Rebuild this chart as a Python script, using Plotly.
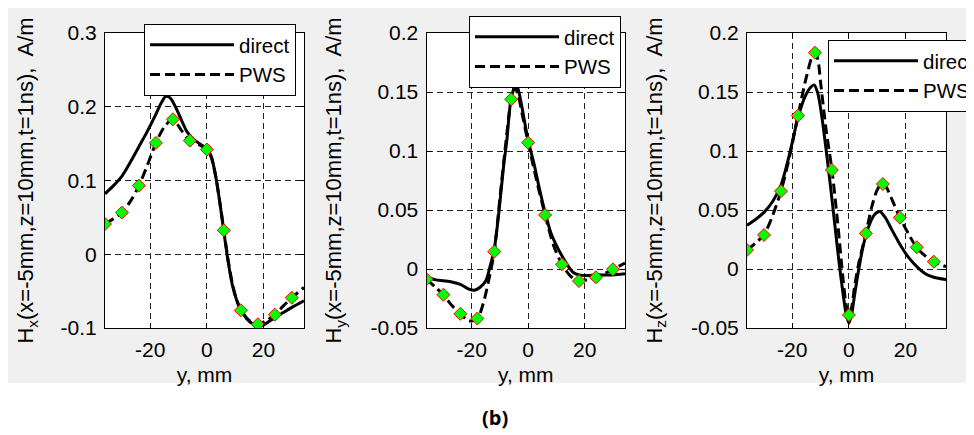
import plotly.graph_objects as go

FONT = "Liberation Sans, Arial, Helvetica, sans-serif"

# ---------------- data ----------------
marker_y_mm = [-36, -30, -24, -18, -12, -6, 0, 6, 12, 18, 24, 30]

# Panel 1 : Hx
hx_direct_y = [-36, -33, -30, -27, -24, -21, -18, -16, -14.5, -13, -11, -9, -7, -5, -3, -1, 0,
               1.5, 3, 4.5, 6, 7.5, 9, 10.5, 12, 14, 16, 18, 20, 22, 24, 27, 30, 34.3]
hx_direct_v = [0.082, 0.093, 0.106, 0.125, 0.146, 0.167, 0.190, 0.206, 0.214, 0.212, 0.199, 0.182,
               0.166, 0.157, 0.151, 0.146, 0.143, 0.133, 0.108, 0.072, 0.030, -0.010, -0.042,
               -0.062, -0.075, -0.087, -0.094, -0.097, -0.096, -0.091, -0.086, -0.079, -0.072, -0.063]
hx_pws_y = [-36, -33, -30, -27, -24, -21, -18, -15, -12, -9, -6, -3, 0, 1.5, 3, 4.5, 6, 7.5, 9,
            10.5, 12, 15, 18, 21, 24, 27, 30, 34.3]
hx_pws_v = [0.041, 0.048, 0.0565, 0.072, 0.093, 0.121, 0.151, 0.173, 0.183, 0.168, 0.154, 0.149,
            0.142, 0.132, 0.108, 0.072, 0.0325, -0.008, -0.040, -0.062, -0.076, -0.090, -0.095,
            -0.090, -0.082, -0.070, -0.059, -0.045]
hx_marker_v = [0.041, 0.0565, 0.093, 0.151, 0.183, 0.154, 0.142, 0.0325, -0.076, -0.095, -0.082, -0.059]

# Panel 2 : Hy
hy_direct_y = [-36, -33, -30, -27, -24, -21, -19, -17, -15, -13.5, -12, -10.5, -8.7, -7.5, -6.3,
               -5, -4.1, -3, -1.5, 0, 2, 4, 6, 8, 10, 12, 14, 16, 18, 21, 24, 27, 30, 34.3]
hy_direct_v = [-0.007, -0.009, -0.010, -0.011, -0.013, -0.017, -0.018, -0.0155, -0.010, 0.002,
               0.017, 0.045, 0.087, 0.110, 0.140, 0.153, 0.156, 0.147, 0.128, 0.109, 0.090, 0.068,
               0.048, 0.031, 0.020, 0.011, 0.003, -0.003, -0.005, -0.0055, -0.005, -0.005, -0.005,
               -0.004]
hy_pws_y = [-36, -33, -30, -27, -24, -21, -18, -16, -14, -12, -10, -8, -6, -4.8, -3.5, -2, 0, 3,
            6, 9, 12, 15, 18, 21, 24, 27, 30, 34.3]
hy_pws_v = [-0.0087, -0.015, -0.022, -0.031, -0.038, -0.044, -0.042, -0.030, -0.010, 0.015, 0.060,
            0.105, 0.144, 0.154, 0.147, 0.130, 0.107, 0.075, 0.046, 0.020, 0.004, -0.006, -0.0102,
            -0.009, -0.007, -0.004, -0.0003, 0.005]
hy_marker_v = [-0.0087, -0.0218, -0.038, -0.042, 0.0147, 0.1438, 0.107, 0.0458, 0.004, -0.0102,
               -0.007, -0.0003]

# Panel 3 : Hz
hz_direct_y = [-36, -33, -30, -27, -24, -21, -18, -15.5, -13.5, -12.3, -11, -9.5, -8, -6.5, -5,
               -3.5, -2, -1, 0, 1, 2, 3.5, 5, 7, 9, 11, 13, 15, 18, 21, 24, 27, 30, 34.3]
hz_direct_v = [0.037, 0.042, 0.048, 0.057, 0.071, 0.097, 0.128, 0.146, 0.154, 0.156, 0.149, 0.128,
               0.100, 0.070, 0.038, 0.006, -0.022, -0.038, -0.046, -0.038, -0.022, 0.000, 0.019,
               0.036, 0.046, 0.0486, 0.043, 0.034, 0.021, 0.010, 0.002, -0.004, -0.007, -0.009]
hz_pws_y = [-36, -33, -30, -27, -24, -21, -18, -15, -13, -12, -11, -10, -8, -6, -4, -2, -1, 0, 1,
            2, 3.5, 6, 8, 10, 11.5, 13, 15, 18, 21, 24, 27, 30, 34.3]
hz_pws_v = [0.016, 0.022, 0.029, 0.045, 0.066, 0.095, 0.130, 0.163, 0.180, 0.183, 0.178, 0.158,
            0.117, 0.084, 0.040, -0.010, -0.030, -0.039, -0.032, -0.015, 0.005, 0.030, 0.052,
            0.067, 0.072, 0.070, 0.060, 0.0435, 0.030, 0.018, 0.011, 0.006, 0.002]
hz_marker_v = [0.0161, 0.0288, 0.066, 0.130, 0.1833, 0.0839, -0.039, 0.0302, 0.072, 0.0435,
               0.0184, 0.0062]

x_tick_vals = [-20, 0, 20]
x_tick_text = ["-20", "0", "20"]
y1_tick_vals = [-0.1, 0, 0.1, 0.2, 0.3]
y1_tick_text = ["-0.1", "0", "0.1", "0.2", "0.3"]
y23_tick_vals = [-0.05, 0, 0.05, 0.1, 0.15, 0.2]
y23_tick_text = ["-0.05", "0", "0.05", "0.1", "0.15", "0.2"]

y_titles = ["H<sub>x</sub>(x=-5mm,z=10mm,t=1ns),\u00a0 A/m",
            "H<sub>y</sub>(x=-5mm,z=10mm,t=1ns),\u00a0 A/m",
            "H<sub>z</sub>(x=-5mm,z=10mm,t=1ns),\u00a0 A/m"]
x_title = "y, mm"
series_names = ["direct", "PWS"]

panels = [
    (hx_direct_y, hx_direct_v, hx_pws_y, hx_pws_v, hx_marker_v, [-0.1, 0.3], y1_tick_vals, y1_tick_text),
    (hy_direct_y, hy_direct_v, hy_pws_y, hy_pws_v, hy_marker_v, [-0.05, 0.2], y23_tick_vals, y23_tick_text),
    (hz_direct_y, hz_direct_v, hz_pws_y, hz_pws_v, hz_marker_v, [-0.05, 0.2], y23_tick_vals, y23_tick_text),
]

# ---------------- layout geometry ----------------
# The page body has an 8px default margin, so the figure is 8px smaller than the
# 974x435 window and all target page positions are shifted by 8px.
PAGE_W, PAGE_H, OFF = 974, 435, 8
W, H = PAGE_W - OFF, PAGE_H - OFF


def px(xp):
    return (xp - OFF) / W


def py(yp):
    return 1 - (yp - OFF) / H


x_domains_page = [(105, 304), (426.5, 625), (747, 946)]
y_domain_page = (33, 328)
legend_pos_page = [(144, 24), (469, 16), (828, 40)]
y_title_standoff = [20, 22, 22]
x_range = [-36, 34.3]

fig = go.Figure()
for i, (dy, dv, py_, pv, mv, yr, ytv, ytt) in enumerate(panels):
    xa = "x" if i == 0 else f"x{i+1}"
    ya = "y" if i == 0 else f"y{i+1}"
    lg = "legend" if i == 0 else f"legend{i+1}"
    fig.add_trace(go.Scatter(x=dy, y=dv, mode="lines", name=series_names[0],
                             line=dict(color="black", width=3, shape="spline", smoothing=0.8),
                             xaxis=xa, yaxis=ya, legend=lg, hoverinfo="skip"))
    fig.add_trace(go.Scatter(x=py_, y=pv, mode="lines", name=series_names[1],
                             line=dict(color="black", width=3, dash="10px,5px", shape="spline", smoothing=0.8),
                             xaxis=xa, yaxis=ya, legend=lg, hoverinfo="skip"))
    fig.add_trace(go.Scatter(x=marker_y_mm, y=mv, mode="markers", showlegend=False,
                             marker=dict(symbol="diamond", size=10, color="#00ff00",
                                         line=dict(color="red", width=1)),
                             xaxis=xa, yaxis=ya, hoverinfo="skip"))

    axis_common = dict(showline=True, linecolor="black", linewidth=1, mirror="allticks",
                       ticks="inside", ticklen=5, tickcolor="black", tickwidth=1,
                       showgrid=True, gridcolor="#222222", gridwidth=1, griddash="6px,4px",
                       zeroline=False, tickfont=dict(family=FONT, size=21, color="black"),
                       automargin=False, fixedrange=True)
    x0, x1 = x_domains_page[i]
    fig.update_layout(**{
        ("xaxis" if i == 0 else f"xaxis{i+1}"): dict(
            axis_common, domain=[px(x0), px(x1)], range=x_range, anchor=ya,
            tickmode="array", tickvals=x_tick_vals, ticktext=x_tick_text, ticklabelstandoff=3,
            title=dict(text=x_title, font=dict(family=FONT, size=21, color="black"), standoff=7)),
        ("yaxis" if i == 0 else f"yaxis{i+1}"): dict(
            axis_common, domain=[py(y_domain_page[1]), py(y_domain_page[0])], range=yr, anchor=xa,
            tickmode="array", tickvals=ytv, ticktext=ytt, ticklabelstandoff=3,
            title=dict(text=y_titles[i], font=dict(family=FONT, size=22, color="black"),
                       standoff=y_title_standoff[i])),
    })
    lx, ly = legend_pos_page[i]
    fig.update_layout(**{lg: dict(x=px(lx), y=py(ly), xanchor="left", yanchor="top",
                                  bgcolor="white", bordercolor="black", borderwidth=1,
                                  font=dict(family=FONT, size=20.5, color="black"),
                                  itemwidth=84, tracegroupgap=0)})

# white page strip below the grey MATLAB figure area
fig.add_shape(type="rect", xref="paper", yref="paper", x0=0, x1=1, y0=0, y1=py(383),
              fillcolor="white", line_width=0, layer="below")

fig.add_annotation(text="<b>(b)</b>", xref="paper", yref="paper", x=px(495), y=py(417.5),
                   xanchor="center", yanchor="middle", showarrow=False,
                   font=dict(family="Open Sans, Noto Sans, sans-serif", size=20, color="black"))

fig.update_layout(width=W, height=H, margin=dict(l=0, r=0, t=0, b=0, pad=0, autoexpand=False),
                  paper_bgcolor="#f0f0f0", plot_bgcolor="white", template="none",
                  font=dict(family=FONT, color="black"))

fig.write_html("out.html")
